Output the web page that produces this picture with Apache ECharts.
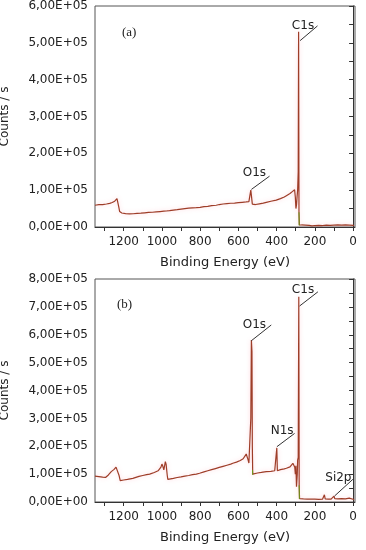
<!DOCTYPE html>
<html>
<head>
<meta charset="utf-8">
<script src="https://cdn.jsdelivr.net/npm/echarts@6/dist/echarts.min.js"></script>
<style>html,body{margin:0;padding:0;background:#fff;}#c{width:366px;height:550px;}</style>
</head>
<body>
<div id="c"></div>
<script>
// ---------- data (binding energy in eV, intensity in counts/s) ----------
var energyA = [1350,1330,1310,1290,1273,1260,1247,1240,1235,1231,1226,1221,1210,1190,1169,1150,1130,1110,1090,1070,1050,1030,1010,990,983,980,977,960,940,920,900,880,860,840,820,800,780,760,740,716,700,680,660,640,620,600,580,560,545,538,535,532,529,527,524,510,490,470,454,430,402,380,360,349,330,318,310,306,302,299,296,293,290,287,285,283,281,270,250,230,215,200,180,160,140,120,100,80,60,40,20,0,-5];
var countsA = [59000,60500,61000,62500,64000,66500,70000,73000,77000,74000,55000,42000,38000,36500,35500,36000,37000,37500,38500,39500,40000,41000,42000,43000,44000,48000,43500,44500,46000,47000,48500,50000,51000,52000,52500,53500,55500,56000,58000,59000,61000,62500,63500,64500,65000,66000,67000,68000,69000,70000,100000,103000,98000,62000,60000,61000,63000,65000,67000,70000,73000,77000,81500,85000,91000,96000,99500,101000,80000,50000,60000,82000,100000,150000,530000,40000,6000,5500,5000,4500,3000,4000,4500,4000,5000,4500,5000,5500,5000,5500,5000,4500,4000];

var energyB = [1350,1330,1310,1295,1280,1265,1250,1240,1236,1230,1224,1218,1200,1180,1152,1120,1100,1080,1064,1040,1020,1012,1005,1000,995,990,986,982,978,972,969,960,940,920,900,880,860,840,820,803,780,760,740,720,700,680,660,640,629,610,590,575,565,559,555,550,545,540,535,532,529,527,525,520,500,480,454,430,410,402,399,396,380,360,349,330,315,310,305,302,299,296,292,290,287,284,282,280,260,240,220,200,180,160,154,150,146,130,115,105,100,96,80,60,40,20,10,0,-5];
var countsB = [93000,91000,89000,88000,97000,109000,117000,125000,128000,118000,95000,77000,79000,81000,85000,92000,95000,98000,100000,106000,112000,117000,125000,136000,128000,115000,130000,145000,135000,95000,81000,82000,85000,88000,90000,93000,95000,98000,100000,103000,108000,112000,116000,120000,124000,128000,132000,136000,139000,143000,149000,155000,162000,172000,168000,153000,140000,135000,300000,581000,540000,200000,100000,101000,104000,106000,109000,110000,112000,114000,194000,112000,116000,119000,121000,126000,139000,133000,125000,100000,130000,55000,100000,150000,160000,736000,60000,12000,11000,10500,10000,10000,9500,10000,12000,26000,11000,10000,10500,12000,21000,12000,11000,12000,11500,14000,13000,10000,8000];

// green traces visible under the red ones (bottoms of the big peaks), one array per segment
var greenA1 = [[283,40000],[282,4000]];
var greenB1 = [[526,115000],[525,97000]];
var greenB2 = [[282,60000],[281,11000]];

// x-axis ticks and labels
var xLabelValues = [0,200,400,600,800,1000,1200];
var xTickValues = [0,100,200,300,400,500,600,700,800,900,1000,1100,1200,1300];
var xRange = [-10,1350];
var yMaxA = 600000, yMaxB = 800000, yStep = 100000;

// peak annotations: [label, peakE, peakV, leaderEndE, leaderEndV, textE, textV]
var peaksA = [
  ['C1s', 277, 506000, 186, 546000, 262, 547000],
  ['O1s', 532, 102000, 437, 138000, 516, 146600]
];
var peaksB = [
  ['C1s', 280, 703000, 184, 754000, 262, 761600],
  ['O1s', 532, 578600, 428, 635000, 516, 635000],
  ['N1s', 398.5, 198400, 306, 246000, 371, 254700],
  ['Si2p', 97, 21500, 1, 81400, 77, 86100]
];
var panelTags = ['(a)', '(b)'];

// ---------- chart ----------
function zip(a, b){ return a.map(function(v,i){ return [v, b[i]]; }); }
function sci(v){
  if (v === 0) return '0,00E+00';
  var e = Math.floor(Math.log10(v) + 1e-9);
  var m = v / Math.pow(10, e);
  return m.toFixed(2).replace('.', ',') + 'E+' + (e < 10 ? '0' : '') + e;
}
var FONT = 'DejaVu Sans';
var LINE = '#9e3d28';

function xAxisFor(i){
  return {
    type: 'value', gridIndex: i, inverse: true, min: xRange[0], max: xRange[1],
    name: 'Binding Energy (eV)', nameLocation: 'middle', nameGap: 29,
    nameTextStyle: {fontFamily: FONT, fontSize: 13, color: '#222'},
    axisLine: {lineStyle: {color: '#333', width: 1}},
    axisTick: {show: true, length: 4, customValues: xTickValues, lineStyle: {color: '#333'}},
    axisLabel: {customValues: xLabelValues, margin: 9, fontFamily: FONT, fontSize: 12, color: '#222',
                formatter: function(v){ return String(v); }},
    splitLine: {show: false}
  };
}
function yAxisFor(i, max){
  return {
    type: 'value', gridIndex: i, min: 0, max: max, interval: yStep,
    name: 'Counts / s', nameLocation: 'middle', nameGap: 84,
    nameTextStyle: {fontFamily: FONT, fontSize: 12, color: '#222'},
    axisLine: {show: true, lineStyle: {color: '#333', width: 1}},
    axisTick: {show: true, length: 4, lineStyle: {color: '#333'}},
    minorTick: {show: true, splitNumber: 2, length: 4, lineStyle: {color: '#333'}},
    axisLabel: {margin: 7, fontFamily: FONT, fontSize: 12, color: '#222', formatter: sci},
    splitLine: {show: false}
  };
}
function annot(peaks){
  return {
    markLine: {
      silent: true, symbol: ['none','none'], animation: false,
      lineStyle: {color: '#333', width: 1, type: 'solid'},
      label: {show: false},
      data: peaks.map(function(p){ return [{coord: [p[1], p[2]]}, {coord: [p[3], p[4]]}]; })
    },
    markPoint: {
      silent: true, symbol: 'circle', symbolSize: 1, animation: false,
      itemStyle: {color: 'rgba(0,0,0,0)'},
      label: {show: true, position: 'inside', formatter: '{b}', fontFamily: FONT, fontSize: 12, color: '#222'},
      data: peaks.map(function(p){ return {name: p[0], coord: [p[5], p[6]]}; })
    }
  };
}
function spectrum(i, data, peaks){
  var s = {
    type: 'line', xAxisIndex: i, yAxisIndex: i, data: data, showSymbol: false, symbol: 'none',
    animation: false, silent: true, z: 3,
    lineStyle: {color: LINE, width: 1.2, shadowColor: 'rgba(255,120,140,0.35)', shadowBlur: 4}
  };
  var a = annot(peaks);
  s.markLine = a.markLine; s.markPoint = a.markPoint;
  return s;
}
function green(i, data){
  return {type: 'line', xAxisIndex: i, yAxisIndex: i, data: data, showSymbol: false, symbol: 'none',
    animation: false, silent: true, z: 4, lineStyle: {color: '#6a9a1a', width: 1}};
}

var chart = echarts.init(document.getElementById('c'), null, {renderer: 'canvas'});
chart.setOption({
  backgroundColor: '#fff',
  animation: false,
  title: [
    {text: panelTags[0], left: 117, top: 21, textStyle: {fontFamily: 'Liberation Serif', fontSize: 13, fontWeight: 'normal', color: '#222'}},
    {text: panelTags[1], left: 112, top: 293, textStyle: {fontFamily: 'Liberation Serif', fontSize: 13, fontWeight: 'normal', color: '#222'}}
  ],
  grid: [
    {left: 95, right: 11, top: 6, height: 221, show: true, borderColor: '#555', borderWidth: 1, containLabel: false, outerBoundsMode: 'none'},
    {left: 95, right: 11, top: 279, height: 223, show: true, borderColor: '#555', borderWidth: 1, containLabel: false, outerBoundsMode: 'none'}
  ],
  xAxis: [xAxisFor(0), xAxisFor(1)],
  yAxis: [yAxisFor(0, yMaxA), yAxisFor(1, yMaxB)],
  series: [
    spectrum(0, zip(energyA, countsA), peaksA),
    green(0, greenA1),
    spectrum(1, zip(energyB, countsB), peaksB),
    green(1, greenB1),
    green(1, greenB2)
  ]
});
</script>
</body>
</html>
